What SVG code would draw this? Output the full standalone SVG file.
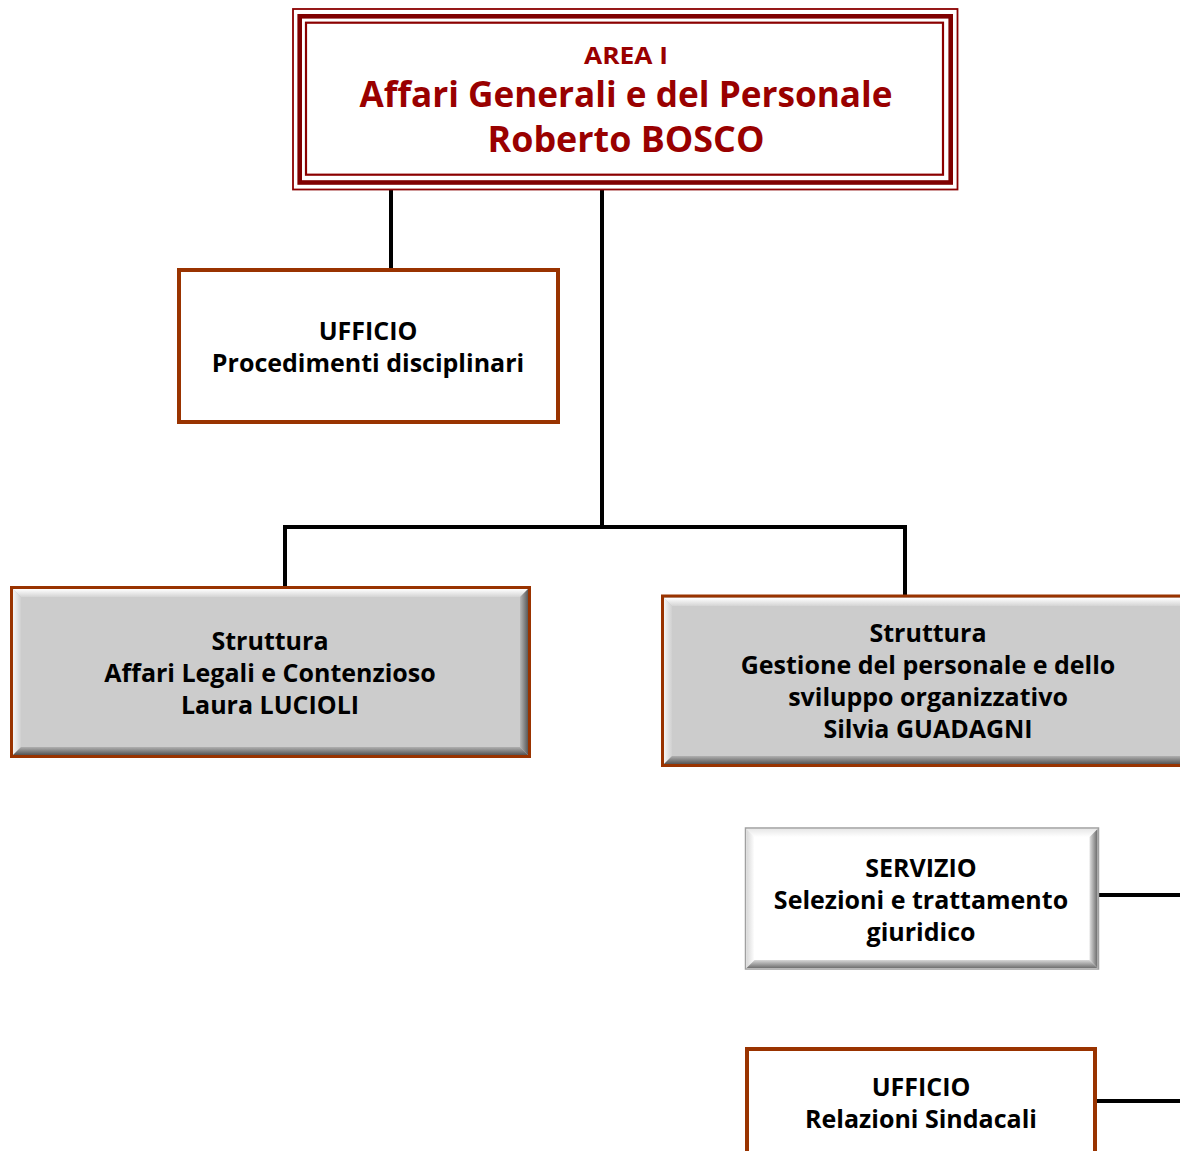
<svg xmlns="http://www.w3.org/2000/svg" width="1180" height="1151" viewBox="0 0 1180 1151">
<defs>
<linearGradient id="gTop" x1="0" y1="0" x2="0" y2="1"><stop offset="0" stop-color="#ffffff"/><stop offset="1" stop-color="#d4d4d4"/></linearGradient>
<linearGradient id="gLeft" x1="0" y1="0" x2="1" y2="0"><stop offset="0" stop-color="#f4f4f4"/><stop offset="1" stop-color="#d0d0d0"/></linearGradient>
<linearGradient id="gRight" x1="0" y1="0" x2="1" y2="0"><stop offset="0" stop-color="#b8b8b8"/><stop offset="1" stop-color="#5a5a5a"/></linearGradient>
<linearGradient id="gBot" x1="0" y1="0" x2="0" y2="1"><stop offset="0" stop-color="#b0b0b0"/><stop offset="1" stop-color="#555555"/></linearGradient>
<linearGradient id="wTop" x1="0" y1="0" x2="0" y2="1"><stop offset="0" stop-color="#e8e8e8"/><stop offset="1" stop-color="#ffffff"/></linearGradient>
<linearGradient id="wLeft" x1="0" y1="0" x2="1" y2="0"><stop offset="0" stop-color="#d8d8d8"/><stop offset="1" stop-color="#ffffff"/></linearGradient>
<linearGradient id="wRight" x1="0" y1="0" x2="1" y2="0"><stop offset="0" stop-color="#e0e0e0"/><stop offset="1" stop-color="#6a6a6a"/></linearGradient>
<linearGradient id="wBot" x1="0" y1="0" x2="0" y2="1"><stop offset="0" stop-color="#d8d8d8"/><stop offset="1" stop-color="#707070"/></linearGradient>
</defs>
<style>
.t{font-family:"Open Sans","Noto Sans","DejaVu Sans",sans-serif;font-weight:700;font-size:25px;fill:#000;text-anchor:middle}
.r{font-family:"Open Sans","Noto Sans","DejaVu Sans",sans-serif;font-weight:700;fill:#990000;text-anchor:middle}
.brown{fill:none;stroke:#993300;stroke-width:4}
.conn{fill:none;stroke:#000;stroke-width:4}
</style>
<rect width="1180" height="1151" fill="#fff"/>
<g id="connectors">
<line class="conn" x1="391" y1="182" x2="391" y2="270"/>
<line class="conn" x1="602" y1="186" x2="602" y2="527"/>
<polyline class="conn" points="285,588 285,527 905,527 905,596"/>
<line class="conn" x1="1099" y1="895" x2="1180" y2="895"/>
<line class="conn" x1="1097" y1="1101" x2="1180" y2="1101"/>
</g>
<g id="area1">
<rect x="293" y="9" width="664.5" height="180.5" fill="#fff" stroke="#8b0000" stroke-width="1.8"/>
<rect x="299.7" y="16.3" width="651" height="166.2" fill="none" stroke="#800000" stroke-width="4.6"/>
<rect x="306" y="22.7" width="637" height="152" fill="none" stroke="#8b0000" stroke-width="2.2"/>
<text class="r" x="626" y="64" font-size="24" textLength="84" lengthAdjust="spacingAndGlyphs">AREA I</text>
<text class="r" x="626" y="107" font-size="36" textLength="533" lengthAdjust="spacingAndGlyphs">Affari Generali e del Personale</text>
<text class="r" x="626" y="152" font-size="36" textLength="277" lengthAdjust="spacingAndGlyphs">Roberto BOSCO</text>
</g>
<g id="uff-procedimenti">
<rect x="179" y="270" width="379" height="152" fill="#fff" class="brown"/>
<text class="t" x="368" y="340">UFFICIO</text>
<text class="t" x="368" y="372">Procedimenti disciplinari</text>
</g>
<g id="str-legali">
<rect x="11.5" y="587.5" width="518" height="169" fill="#cccccc" stroke="#993300" stroke-width="3"/>
<polygon points="13,589 528,589 520,597 21,597" fill="url(#gTop)"/>
<polygon points="13,589 21,597 21,747 13,755" fill="url(#gLeft)"/>
<polygon points="528,589 528,755 520,747 520,597" fill="url(#gRight)"/>
<polygon points="13,755 528,755 520,747 21,747" fill="url(#gBot)"/>
<text class="t" x="270" y="650">Struttura</text>
<text class="t" x="270" y="682">Affari Legali e Contenzioso</text>
<text class="t" x="270" y="714">Laura LUCIOLI</text>
</g>
<g id="str-gestione">
<rect x="662.5" y="596" width="530" height="169.5" fill="#cccccc" stroke="#993300" stroke-width="3"/>
<polygon points="664,598 1182,598 1182,606 672,606" fill="url(#gTop)"/>
<polygon points="664,598 672,606 672,756 664,764" fill="url(#gLeft)"/>
<polygon points="664,764 1182,764 1182,756 672,756" fill="url(#gBot)"/>
<text class="t" x="928" y="642">Struttura</text>
<text class="t" x="928" y="674">Gestione del personale e dello</text>
<text class="t" x="928" y="706">sviluppo organizzativo</text>
<text class="t" x="928" y="738">Silvia GUADAGNI</text>
</g>
<g id="serv-selezioni">
<rect x="745.5" y="828" width="353" height="141" fill="#fff" stroke="#a0a0a0" stroke-width="1.5"/>
<polygon points="746.5,829 1097.5,829 1089.5,837 754.5,837" fill="url(#wTop)"/>
<polygon points="746.5,829 754.5,837 754.5,960 746.5,968" fill="url(#wLeft)"/>
<polygon points="1097.5,829 1097.5,968 1089.5,960 1089.5,837" fill="url(#wRight)"/>
<polygon points="746.5,968 1097.5,968 1089.5,960 754.5,960" fill="url(#wBot)"/>
<text class="t" x="921" y="877">SERVIZIO</text>
<text class="t" x="921" y="909">Selezioni e trattamento</text>
<text class="t" x="921" y="941">giuridico</text>
</g>
<g id="uff-relazioni">
<rect x="747" y="1049" width="348" height="120" fill="#fff" class="brown"/>
<text class="t" x="921" y="1096">UFFICIO</text>
<text class="t" x="921" y="1128">Relazioni Sindacali</text>
</g>
</svg>
